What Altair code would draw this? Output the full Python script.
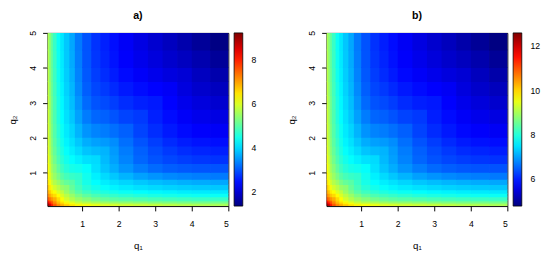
import altair as alt
import pandas as pd

# cell edges along q1 and q2 (same grid on both axes)
edges = [0.05, 0.1, 0.15, 0.2, 0.3, 0.4, 0.5, 0.65, 0.8, 1.0, 1.25, 1.5, 1.75, 2.0,
         2.4, 2.8, 3.2, 3.6, 4.0, 4.5, 5.0]

# Values. Entry k of list j is the cell (q1 cell j, q2 cell j+k);
# the surface is symmetric in q1 and q2, so the other half mirrors it.
tri_a = [
    [9.1, 8.6, 8.1, 7.6, 7.2, 6.95, 6.7, 6.5, 6.35, 6.25, 6.15, 6.05, 6.0, 5.95, 5.9, 5.85, 5.8, 5.75, 5.7, 5.65],
    [8.1, 7.7, 7.3, 6.9, 6.65, 6.4, 6.2, 6.0, 5.9, 5.8, 5.7, 5.65, 5.6, 5.55, 5.5, 5.45, 5.4, 5.37, 5.35],
    [7.5, 7.1, 6.7, 6.4, 6.15, 5.9, 5.7, 5.55, 5.45, 5.35, 5.3, 5.25, 5.2, 5.15, 5.12, 5.1, 5.07, 5.05],
    [6.9, 6.55, 6.25, 5.95, 5.7, 5.5, 5.35, 5.2, 5.1, 5.02, 4.97, 4.92, 4.87, 4.83, 4.8, 4.77, 4.75],
    [6.3, 6.0, 5.75, 5.5, 5.25, 5.05, 4.9, 4.8, 4.72, 4.65, 4.58, 4.53, 4.49, 4.45, 4.42, 4.4],
    [5.8, 5.5, 5.25, 5.0, 4.8, 4.65, 4.55, 4.47, 4.4, 4.33, 4.28, 4.24, 4.2, 4.17, 4.15],
    [5.4, 5.1, 4.85, 4.62, 4.47, 4.35, 4.25, 4.17, 4.1, 4.04, 3.99, 3.95, 3.92, 3.9],
    [5.0, 4.75, 4.5, 4.33, 4.2, 4.1, 4.0, 3.9, 3.83, 3.77, 3.72, 3.68, 3.65],
    [4.7, 4.45, 4.22, 4.05, 3.9, 3.75, 3.6, 3.5, 3.42, 3.37, 3.33, 3.3],
    [4.35, 4.1, 3.88, 3.7, 3.5, 3.32, 3.18, 3.09, 3.04, 3.01, 3.0],
    [4.05, 3.8, 3.6, 3.38, 3.15, 3.0, 2.9, 2.83, 2.78, 2.75],
    [3.75, 3.55, 3.32, 3.1, 2.93, 2.8, 2.7, 2.64, 2.6],
    [3.45, 3.22, 3.0, 2.83, 2.68, 2.57, 2.5, 2.46],
    [3.1, 2.88, 2.7, 2.55, 2.43, 2.35, 2.3],
    [2.8, 2.6, 2.45, 2.32, 2.22, 2.15],
    [2.55, 2.37, 2.22, 2.1, 2.0],
    [2.3, 2.12, 1.98, 1.87],
    [2.05, 1.88, 1.73],
    [1.75, 1.58],
    [1.42],
]

tri_b = [
    [12.5, 12.0, 11.5, 11.0, 10.6, 10.35, 10.1, 9.9, 9.75, 9.65, 9.55, 9.45, 9.4, 9.35, 9.3, 9.25, 9.2, 9.15, 9.1, 9.05],
    [11.5, 11.1, 10.7, 10.3, 10.05, 9.8, 9.6, 9.4, 9.3, 9.2, 9.1, 9.05, 9.0, 8.95, 8.9, 8.85, 8.8, 8.77, 8.75],
    [10.9, 10.5, 10.1, 9.8, 9.55, 9.3, 9.1, 8.95, 8.85, 8.75, 8.7, 8.65, 8.6, 8.55, 8.52, 8.5, 8.47, 8.45],
    [10.3, 9.95, 9.65, 9.35, 9.1, 8.9, 8.75, 8.6, 8.5, 8.42, 8.37, 8.32, 8.27, 8.23, 8.2, 8.17, 8.15],
    [9.7, 9.4, 9.15, 8.9, 8.65, 8.45, 8.3, 8.2, 8.12, 8.05, 7.98, 7.93, 7.89, 7.85, 7.82, 7.8],
    [9.2, 8.9, 8.65, 8.4, 8.2, 8.05, 7.95, 7.87, 7.8, 7.73, 7.68, 7.64, 7.6, 7.57, 7.55],
    [8.8, 8.5, 8.25, 8.02, 7.87, 7.75, 7.65, 7.57, 7.5, 7.44, 7.39, 7.35, 7.32, 7.3],
    [8.4, 8.15, 7.9, 7.73, 7.6, 7.5, 7.4, 7.3, 7.23, 7.17, 7.12, 7.08, 7.05],
    [8.1, 7.85, 7.62, 7.45, 7.3, 7.15, 7.0, 6.9, 6.82, 6.77, 6.73, 6.7],
    [7.75, 7.5, 7.28, 7.1, 6.9, 6.72, 6.58, 6.49, 6.44, 6.41, 6.4],
    [7.45, 7.2, 7.0, 6.78, 6.55, 6.4, 6.3, 6.23, 6.18, 6.15],
    [7.15, 6.95, 6.72, 6.5, 6.33, 6.2, 6.1, 6.04, 6.0],
    [6.85, 6.62, 6.4, 6.23, 6.08, 5.97, 5.9, 5.86],
    [6.5, 6.28, 6.1, 5.95, 5.83, 5.75, 5.7],
    [6.2, 6.0, 5.85, 5.72, 5.62, 5.55],
    [5.95, 5.77, 5.62, 5.5, 5.4],
    [5.7, 5.52, 5.38, 5.27],
    [5.45, 5.28, 5.13],
    [5.15, 4.98],
    [4.82],
]

jet = ["#00007F", "#0000FF", "#00FFFF", "#FFFF00", "#FF0000", "#7F0000"]
stops_a = [1.38, 2.3625, 4.3275, 6.2925, 8.2575, 9.24]
stops_b = [4.8, 5.775, 7.725, 9.675, 11.625, 12.6]
legend_vals_a = [2, 4, 6, 8]
legend_vals_b = [6, 8, 10, 12]
ticks = [1, 2, 3, 4, 5]

FONT = "Liberation Sans"
W, H = 188, 180


def to_frame(tri):
    rows = []
    for j, col in enumerate(tri):
        for k, v in enumerate(col):
            i = j + k
            for a, b in {(j, i), (i, j)}:
                rows.append({"q1lo": edges[a], "q1hi": edges[a + 1],
                             "q2lo": edges[b], "q2hi": edges[b + 1], "v": v})
    return pd.DataFrame(rows)


def panel(tri, title, stops, lvals):
    sc = alt.Scale(domain=stops, range=jet, interpolate="rgb")
    return alt.Chart(to_frame(tri)).mark_rect(
        strokeWidth=0, x2Offset=0.8, y2Offset=-0.8, clip=True
    ).encode(
        x=alt.X("q1lo:Q",
                scale=alt.Scale(domain=[0.05, 5], nice=False, zero=False),
                axis=alt.Axis(values=ticks, title="q₁", domain=False, grid=False,
                              tickColor="black", tickSize=5, labelPadding=9,
                              titlePadding=13)),
        x2="q1hi:Q",
        y=alt.Y("q2lo:Q",
                scale=alt.Scale(domain=[0.05, 5], nice=False, zero=False),
                axis=alt.Axis(values=ticks, title="q₂", domain=False, grid=False,
                              tickColor="black", tickSize=5, labelPadding=5,
                              labelAngle=270, labelBaseline="bottom",
                              titlePadding=12)),
        y2="q2hi:Q",
        color=alt.Color("v:Q", scale=sc,
                        legend=alt.Legend(type="gradient", title=None, orient="none",
                                          legendX=W + 6, legendY=0,
                                          direction="vertical",
                                          gradientLength=H, gradientThickness=9,
                                          values=lvals, labelOffset=9,
                                          gradientStrokeColor="black",
                                          gradientStrokeWidth=0.8)),
    ).properties(
        width=W, height=H,
        title=alt.TitleParams(title, fontSize=11, fontWeight="bold", font=FONT,
                              offset=10, anchor="middle", color="black"),
    )


chart = alt.hconcat(
    panel(tri_a, "a)", stops_a, legend_vals_a),
    panel(tri_b, "b)", stops_b, legend_vals_b),
    spacing=29,
).properties(
    padding={"top": -4, "left": -1, "right": 0, "bottom": 0}
).resolve_scale(color="independent").configure_view(
    stroke="black", strokeWidth=1
).configure_axis(
    labelFont=FONT, titleFont=FONT, labelFontSize=9, titleFontSize=10,
    labelColor="black", titleColor="black", titleFontWeight="normal"
).configure_legend(
    labelFont=FONT, labelFontSize=9, labelColor="black"
)

chart.save("out.html", embed_options={"renderer": "svg", "actions": False})
